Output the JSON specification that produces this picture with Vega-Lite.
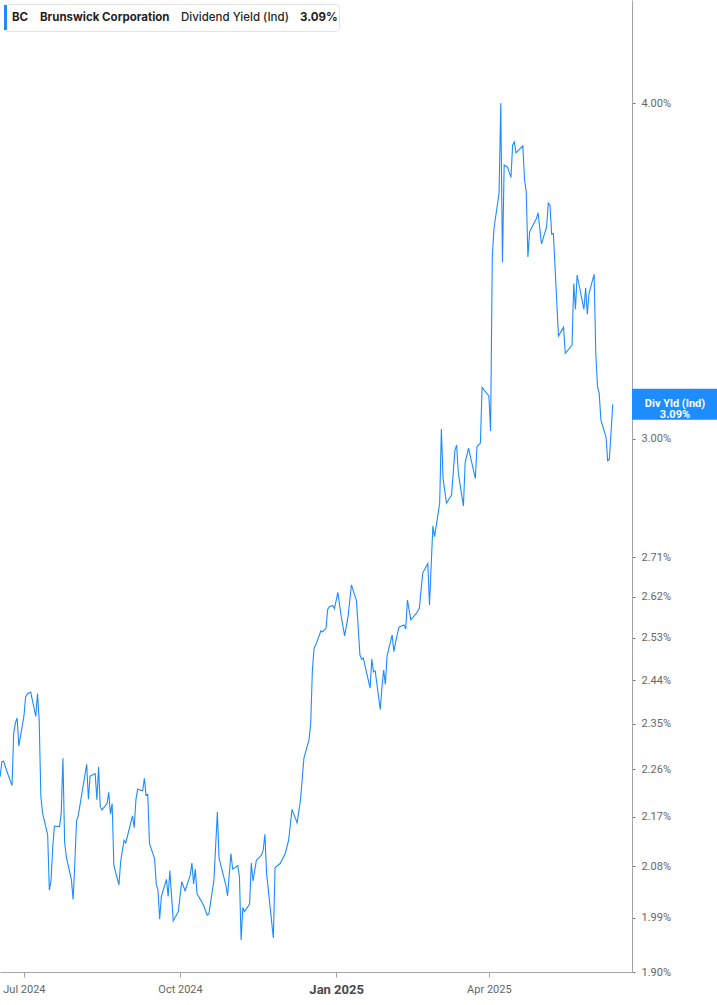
{
  "$schema": "https://vega.github.io/schema/vega-lite/v6.json",
  "width": 632,
  "height": 972,
  "autosize": "none",
  "padding": {"left": 0, "top": 0, "right": 85, "bottom": 33},
  "background": "white",
  "config": {"view": {"stroke": null}, "font": "Roboto"},
  "datasets": {
    "yield": [
      {"date": "2024-06-17", "value": 2.246}, {"date": "2024-06-18", "value": 2.275}, {"date": "2024-06-19", "value": 2.276},
      {"date": "2024-06-21", "value": 2.256}, {"date": "2024-06-24", "value": 2.229}, {"date": "2024-06-25", "value": 2.332},
      {"date": "2024-06-26", "value": 2.352}, {"date": "2024-06-27", "value": 2.362}, {"date": "2024-06-28", "value": 2.306},
      {"date": "2024-07-01", "value": 2.365}, {"date": "2024-07-02", "value": 2.405}, {"date": "2024-07-03", "value": 2.411},
      {"date": "2024-07-05", "value": 2.415}, {"date": "2024-07-08", "value": 2.365}, {"date": "2024-07-09", "value": 2.412},
      {"date": "2024-07-10", "value": 2.358}, {"date": "2024-07-11", "value": 2.208}, {"date": "2024-07-12", "value": 2.177},
      {"date": "2024-07-15", "value": 2.137}, {"date": "2024-07-16", "value": 2.038}, {"date": "2024-07-17", "value": 2.056},
      {"date": "2024-07-18", "value": 2.115}, {"date": "2024-07-19", "value": 2.153}, {"date": "2024-07-22", "value": 2.152},
      {"date": "2024-07-23", "value": 2.177}, {"date": "2024-07-24", "value": 2.282}, {"date": "2024-07-25", "value": 2.124},
      {"date": "2024-07-26", "value": 2.097}, {"date": "2024-07-29", "value": 2.056}, {"date": "2024-07-30", "value": 2.022},
      {"date": "2024-07-31", "value": 2.085}, {"date": "2024-08-01", "value": 2.162}, {"date": "2024-08-02", "value": 2.172},
      {"date": "2024-08-07", "value": 2.27}, {"date": "2024-08-08", "value": 2.203}, {"date": "2024-08-09", "value": 2.247},
      {"date": "2024-08-12", "value": 2.252}, {"date": "2024-08-13", "value": 2.202}, {"date": "2024-08-14", "value": 2.265},
      {"date": "2024-08-15", "value": 2.189}, {"date": "2024-08-16", "value": 2.183}, {"date": "2024-08-19", "value": 2.195},
      {"date": "2024-08-20", "value": 2.216}, {"date": "2024-08-21", "value": 2.175}, {"date": "2024-08-22", "value": 2.195},
      {"date": "2024-08-23", "value": 2.082}, {"date": "2024-08-26", "value": 2.047}, {"date": "2024-08-27", "value": 2.088},
      {"date": "2024-08-29", "value": 2.127}, {"date": "2024-08-30", "value": 2.122}, {"date": "2024-09-03", "value": 2.172},
      {"date": "2024-09-04", "value": 2.15}, {"date": "2024-09-05", "value": 2.202}, {"date": "2024-09-06", "value": 2.222},
      {"date": "2024-09-09", "value": 2.219}, {"date": "2024-09-10", "value": 2.243}, {"date": "2024-09-11", "value": 2.21},
      {"date": "2024-09-12", "value": 2.212}, {"date": "2024-09-13", "value": 2.121}, {"date": "2024-09-16", "value": 2.094},
      {"date": "2024-09-17", "value": 2.048}, {"date": "2024-09-18", "value": 2.038}, {"date": "2024-09-19", "value": 1.988},
      {"date": "2024-09-20", "value": 2.027}, {"date": "2024-09-23", "value": 2.057}, {"date": "2024-09-24", "value": 2.027},
      {"date": "2024-09-25", "value": 2.072}, {"date": "2024-09-27", "value": 1.985}, {"date": "2024-09-30", "value": 2.001},
      {"date": "2024-10-02", "value": 2.053}, {"date": "2024-10-04", "value": 2.037}, {"date": "2024-10-07", "value": 2.064},
      {"date": "2024-10-08", "value": 2.086}, {"date": "2024-10-09", "value": 2.049}, {"date": "2024-10-10", "value": 2.075},
      {"date": "2024-10-11", "value": 2.032}, {"date": "2024-10-15", "value": 2.011}, {"date": "2024-10-17", "value": 1.995},
      {"date": "2024-10-18", "value": 1.997}, {"date": "2024-10-21", "value": 2.056}, {"date": "2024-10-23", "value": 2.179},
      {"date": "2024-10-24", "value": 2.094}, {"date": "2024-10-28", "value": 2.047}, {"date": "2024-10-29", "value": 2.028},
      {"date": "2024-10-31", "value": 2.103}, {"date": "2024-11-01", "value": 2.075}, {"date": "2024-11-04", "value": 2.081},
      {"date": "2024-11-05", "value": 2.062}, {"date": "2024-11-06", "value": 1.953}, {"date": "2024-11-07", "value": 2.008},
      {"date": "2024-11-08", "value": 2.001}, {"date": "2024-11-11", "value": 2.014}, {"date": "2024-11-12", "value": 2.086},
      {"date": "2024-11-13", "value": 2.054}, {"date": "2024-11-15", "value": 2.091}, {"date": "2024-11-18", "value": 2.1},
      {"date": "2024-11-19", "value": 2.109}, {"date": "2024-11-20", "value": 2.138}, {"date": "2024-11-21", "value": 2.068},
      {"date": "2024-11-25", "value": 1.956}, {"date": "2024-11-26", "value": 2.078}, {"date": "2024-11-29", "value": 2.085},
      {"date": "2024-12-02", "value": 2.103}, {"date": "2024-12-04", "value": 2.127}, {"date": "2024-12-06", "value": 2.184},
      {"date": "2024-12-09", "value": 2.159}, {"date": "2024-12-11", "value": 2.202}, {"date": "2024-12-13", "value": 2.282},
      {"date": "2024-12-16", "value": 2.318}, {"date": "2024-12-17", "value": 2.351}, {"date": "2024-12-18", "value": 2.461},
      {"date": "2024-12-19", "value": 2.508}, {"date": "2024-12-20", "value": 2.514}, {"date": "2024-12-23", "value": 2.545},
      {"date": "2024-12-24", "value": 2.543}, {"date": "2024-12-26", "value": 2.55}, {"date": "2024-12-27", "value": 2.592},
      {"date": "2024-12-28", "value": 2.598}, {"date": "2024-12-30", "value": 2.601}, {"date": "2024-12-31", "value": 2.594},
      {"date": "2025-01-02", "value": 2.63}, {"date": "2025-01-04", "value": 2.576}, {"date": "2025-01-06", "value": 2.534},
      {"date": "2025-01-08", "value": 2.576}, {"date": "2025-01-10", "value": 2.647}, {"date": "2025-01-13", "value": 2.611},
      {"date": "2025-01-15", "value": 2.493}, {"date": "2025-01-16", "value": 2.484}, {"date": "2025-01-17", "value": 2.486},
      {"date": "2025-01-21", "value": 2.423}, {"date": "2025-01-22", "value": 2.484}, {"date": "2025-01-23", "value": 2.457},
      {"date": "2025-01-24", "value": 2.459}, {"date": "2025-01-27", "value": 2.379}, {"date": "2025-01-28", "value": 2.426},
      {"date": "2025-01-29", "value": 2.461}, {"date": "2025-01-30", "value": 2.431}, {"date": "2025-01-31", "value": 2.491},
      {"date": "2025-02-03", "value": 2.536}, {"date": "2025-02-04", "value": 2.5}, {"date": "2025-02-05", "value": 2.52},
      {"date": "2025-02-07", "value": 2.553}, {"date": "2025-02-10", "value": 2.558}, {"date": "2025-02-11", "value": 2.549},
      {"date": "2025-02-12", "value": 2.613}, {"date": "2025-02-14", "value": 2.569}, {"date": "2025-02-17", "value": 2.582},
      {"date": "2025-02-19", "value": 2.594}, {"date": "2025-02-21", "value": 2.674}, {"date": "2025-02-24", "value": 2.696},
      {"date": "2025-02-25", "value": 2.602}, {"date": "2025-02-27", "value": 2.784}, {"date": "2025-02-28", "value": 2.759},
      {"date": "2025-03-03", "value": 2.839}, {"date": "2025-03-04", "value": 3.025}, {"date": "2025-03-05", "value": 2.9},
      {"date": "2025-03-07", "value": 2.839}, {"date": "2025-03-10", "value": 2.859}, {"date": "2025-03-12", "value": 2.971},
      {"date": "2025-03-13", "value": 2.984}, {"date": "2025-03-14", "value": 2.913}, {"date": "2025-03-17", "value": 2.832},
      {"date": "2025-03-18", "value": 2.939}, {"date": "2025-03-20", "value": 2.976}, {"date": "2025-03-24", "value": 2.9},
      {"date": "2025-03-25", "value": 2.981}, {"date": "2025-03-27", "value": 2.989}, {"date": "2025-03-28", "value": 3.135},
      {"date": "2025-04-01", "value": 3.112}, {"date": "2025-04-02", "value": 3.02}, {"date": "2025-04-03", "value": 3.506},
      {"date": "2025-04-04", "value": 3.593}, {"date": "2025-04-07", "value": 3.702}, {"date": "2025-04-08", "value": 3.999},
      {"date": "2025-04-09", "value": 3.49}, {"date": "2025-04-10", "value": 3.793}, {"date": "2025-04-12", "value": 3.786},
      {"date": "2025-04-14", "value": 3.753}, {"date": "2025-04-15", "value": 3.859}, {"date": "2025-04-16", "value": 3.869},
      {"date": "2025-04-17", "value": 3.833}, {"date": "2025-04-21", "value": 3.856}, {"date": "2025-04-22", "value": 3.747},
      {"date": "2025-04-23", "value": 3.707}, {"date": "2025-04-24", "value": 3.506}, {"date": "2025-04-25", "value": 3.582},
      {"date": "2025-04-29", "value": 3.623}, {"date": "2025-04-30", "value": 3.641}, {"date": "2025-05-02", "value": 3.545},
      {"date": "2025-05-05", "value": 3.597}, {"date": "2025-05-06", "value": 3.672}, {"date": "2025-05-07", "value": 3.665},
      {"date": "2025-05-08", "value": 3.575}, {"date": "2025-05-09", "value": 3.577}, {"date": "2025-05-12", "value": 3.276},
      {"date": "2025-05-15", "value": 3.301}, {"date": "2025-05-16", "value": 3.228}, {"date": "2025-05-20", "value": 3.251},
      {"date": "2025-05-21", "value": 3.427}, {"date": "2025-05-22", "value": 3.352}, {"date": "2025-05-23", "value": 3.452},
      {"date": "2025-05-27", "value": 3.352}, {"date": "2025-05-28", "value": 3.414}, {"date": "2025-05-29", "value": 3.338},
      {"date": "2025-05-30", "value": 3.398}, {"date": "2025-06-02", "value": 3.454}, {"date": "2025-06-03", "value": 3.228},
      {"date": "2025-06-04", "value": 3.137}, {"date": "2025-06-05", "value": 3.119}, {"date": "2025-06-06", "value": 3.049},
      {"date": "2025-06-09", "value": 3.005}, {"date": "2025-06-10", "value": 2.944}, {"date": "2025-06-11", "value": 2.948},
      {"date": "2025-06-13", "value": 3.09}
    ],
    "tag": [
      {"date": "2025-07-19T16:00:00Z", "value": 3.09, "label": "Div Yld (Ind)\n3.09%"}
    ]
  },
  "encoding": {
    "x": {
      "field": "date",
      "type": "temporal",
      "scale": {
        "type": "utc",
        "domain": [
          {"year": 2024, "month": 6, "date": 16, "hours": 22, "utc": true},
          {"year": 2025, "month": 6, "date": 24, "hours": 8, "utc": true}
        ]
      },
      "axis": {
        "title": null,
        "grid": false,
        "values": [
          {"year": 2024, "month": 7, "date": 1, "utc": true},
          {"year": 2024, "month": 10, "date": 1, "utc": true},
          {"year": 2025, "month": 1, "date": 1, "utc": true},
          {"year": 2025, "month": 4, "date": 1, "utc": true}
        ],
        "labelExpr": "utcFormat(datum.value, '%b %Y')",
        "labelFlush": false,
        "labelOverlap": false,
        "domainColor": "#a3a3a3",
        "tickColor": "#a3a3a3",
        "tickSize": 5,
        "labelPadding": 6,
        "labelFont": "Roboto",
        "labelColor": {"condition": {"test": "utcmonth(datum.value) === 0", "value": "#4a4a4a"}, "value": "#666666"},
        "labelFontSize": {"condition": {"test": "utcmonth(datum.value) === 0", "value": 13}, "value": 11},
        "labelFontWeight": {"condition": {"test": "utcmonth(datum.value) === 0", "value": "bold"}, "value": "normal"}
      }
    },
    "y": {
      "field": "value",
      "type": "quantitative",
      "scale": {"type": "log", "domain": [1.9, 4.369], "nice": false},
      "axis": {
        "orient": "right",
        "title": null,
        "grid": false,
        "values": [1.9, 1.99, 2.08, 2.17, 2.26, 2.35, 2.44, 2.53, 2.62, 2.71, 3.0, 4.0],
        "labelExpr": "format(datum.value, '.2f') + '%'",
        "labelOverlap": false,
        "labelFlush": false,
        "domainColor": "#a3a3a3",
        "tickColor": "#777777",
        "tickSize": 3,
        "labelPadding": 6,
        "labelFont": "Roboto",
        "labelFontSize": 11,
        "labelColor": "#666666"
      }
    }
  },
  "layer": [
    {
      "data": {"name": "yield"},
      "mark": {"type": "line", "strokeWidth": 1.1},
      "encoding": {
        "color": {
          "datum": "BC",
          "type": "nominal",
          "scale": {
            "domain": ["BC", "Brunswick Corporation", "Dividend Yield (Ind)", "3.09%"],
            "range": ["#1c8cff", "#1c8cff", "#1c8cff", "#1c8cff"]
          },
          "legend": {
            "title": null,
            "orient": "top-left",
            "offset": 4,
            "direction": "horizontal",
            "padding": 1,
            "strokeColor": "#e3e3e3",
            "fillColor": "white",
            "cornerRadius": 3,
            "symbolType": "M-0.12,-1H0.12V1H-0.12Z",
            "symbolSize": 625,
            "symbolStrokeWidth": 0,
            "symbolOffset": -12,
            "labelFont": "Inter",
            "labelFontSize": 11.5,
            "labelColor": "#1f1f1f",
            "labelLimit": 300,
            "labelOffset": -6,
            "columnPadding": 3,
            "labelExpr": "datum.label === '3.09%' ? '3.09%\u00a0\u00a0\u00a0\u00a0\u00a0\u00a0' : datum.label",
            "encode": {
              "symbols": {
                "update": {
                  "fill": {"value": "#1c8cff"},
                  "stroke": {"value": "transparent"},
                  "strokeWidth": {"value": 0},
                  "opacity": {"signal": "datum.value === 'BC' ? 1 : 0"}
                }
              },
              "labels": {
                "update": {
                  "fontWeight": {"signal": "datum.value === 'Dividend Yield (Ind)' ? 500 : 700"}
                }
              }
            }
          }
        }
      }
    },
    {
      "data": {"name": "tag"},
      "mark": {
        "type": "point",
        "shape": "M-2.867,-1.033H2.867V1.033H-2.867Z",
        "size": 900,
        "filled": true,
        "color": "#1c8cff",
        "opacity": 1
      }
    },
    {
      "data": {"name": "tag"},
      "mark": {
        "type": "text",
        "color": "white",
        "font": "Roboto",
        "fontWeight": "bold",
        "fontSize": 11,
        "lineBreak": "\n",
        "lineHeight": 11
      },
      "encoding": {"text": {"field": "label"}}
    }
  ]
}
